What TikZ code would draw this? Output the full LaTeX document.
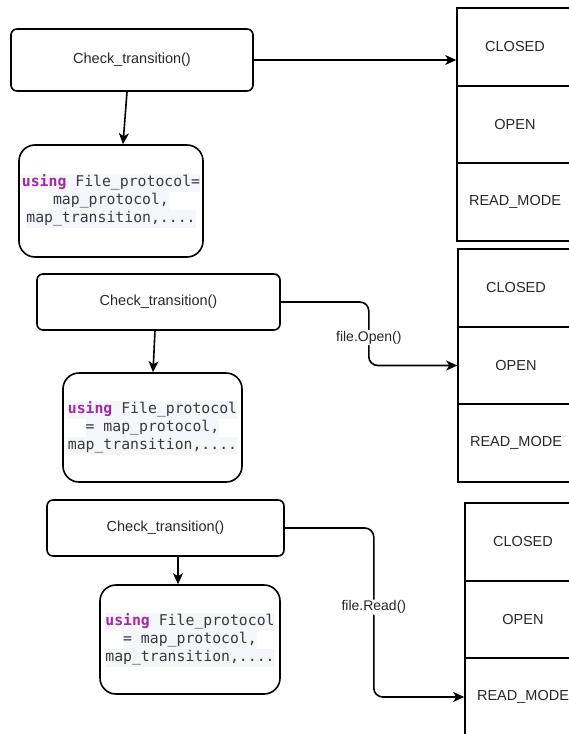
\documentclass[tikz,border=0pt]{standalone}
\usepackage{fontspec}
\setmainfont{Liberation Sans}
\setmonofont{DejaVu Sans Mono}
\usetikzlibrary{arrows.meta}

\definecolor{kwpurple}{RGB}{166,38,164}
\definecolor{codebg}{RGB}{244,246,249}
\definecolor{codefg}{RGB}{56,58,66}

\newcommand{\kw}[1]{\textcolor{kwpurple}{\bfseries #1}}
\newcommand{\codeln}[1]{{\setlength{\fboxsep}{0pt}\colorbox{codebg}{\strut #1}}}

\begin{document}
\begin{tikzpicture}[
  check/.style={draw,line width=1.6pt,rounded corners=6pt,inner sep=0pt,
    font=\fontsize{14.5}{17}\selectfont,text=black!85},
  code/.style={draw,line width=1.6pt,rounded corners=16pt,inner sep=0pt,align=center,
    font=\ttfamily\fontsize{14.8}{18}\selectfont,text=codefg},
  cell/.style={draw,line width=1.6pt,minimum width=116pt,minimum height=77.5pt,inner sep=0pt,
    font=\fontsize{14.5}{17}\selectfont,text=black!85},
  lbl/.style={fill=white,inner sep=1pt,font=\fontsize{14}{16}\selectfont,text=black!85},
  flow/.style={-{Stealth[length=11pt,width=10pt,inset=3pt]},line width=1.6pt}
]

 \begin{scope}[x=1pt,y=-1pt]

  \useasboundingbox (0,0) rectangle (568,734);

  % first step: start in CLOSED
  \node[check,minimum width=242pt,minimum height=62pt] (k) at (132,60) {Check\_transition()};
  \node[code,minimum width=184pt,minimum height=112pt] (u) at (111,201)
    {\codeln{\kw{using} File\_protocol=}\\ \codeln{map\_protocol,}\\ \codeln{map\_transition,....}};

  \node[cell] (a) at (515,47) {CLOSED};
  \node[cell] (b) at (515,124.5) {OPEN};
  \node[cell] (c) at (515,202) {READ\_MODE};

  \draw[flow] ([xshift=-5pt]k.south) -- ([xshift=12pt]u.north);
  \draw[flow] (k.east) -- (k.east -| a.west);

  % second step: file.Open()
  \node[check,minimum width=243pt,minimum height=56pt] (kk) at (158.5,302) {Check\_transition()};
  \node[code,minimum width=179pt,minimum height=109pt] (uu) at (152.5,427.5)
    {\codeln{\kw{using} File\_protocol}\\ \codeln{= map\_protocol,}\\ \codeln{map\_transition,....}};

  \node[cell] (aa) at (516,288) {CLOSED};
  \node[cell] (ab) at (516,365.5) {OPEN};
  \node[cell] (ac) at (516,443) {READ\_MODE};

  \draw[flow] ([xshift=-3.5pt]kk.south) -- ([xshift=0.5pt]uu.north);
  \draw[flow,rounded corners=9pt] (kk.east) -- ++(88,0)
    |- node[lbl,pos=0.28] (lo) {file.Open()} (ab.west);

  % third step: file.Read()
  \node[check,minimum width=237pt,minimum height=56pt] (kkk) at (165.5,528) {Check\_transition()};
  \node[code,minimum width=180pt,minimum height=109pt] (uuu) at (190,639.5)
    {\codeln{\kw{using} File\_protocol}\\ \codeln{= map\_protocol,}\\ \codeln{map\_transition,....}};

  \node[cell] (ba) at (523,542) {CLOSED};
  \node[cell] (bb) at (523,619.5) {OPEN};
  \node[cell] (bc) at (523,697) {READ\_MODE};

  \draw[flow] ([xshift=12.5pt]kkk.south) -- ([xshift=-12pt]uuu.north);
  \draw[flow,rounded corners=9pt] (kkk.east) -- ++(89,0)
    |- node[lbl,pos=0.234] (lr) {file.Read()} (bc.west);

 \end{scope}

\end{tikzpicture}
\end{document}
